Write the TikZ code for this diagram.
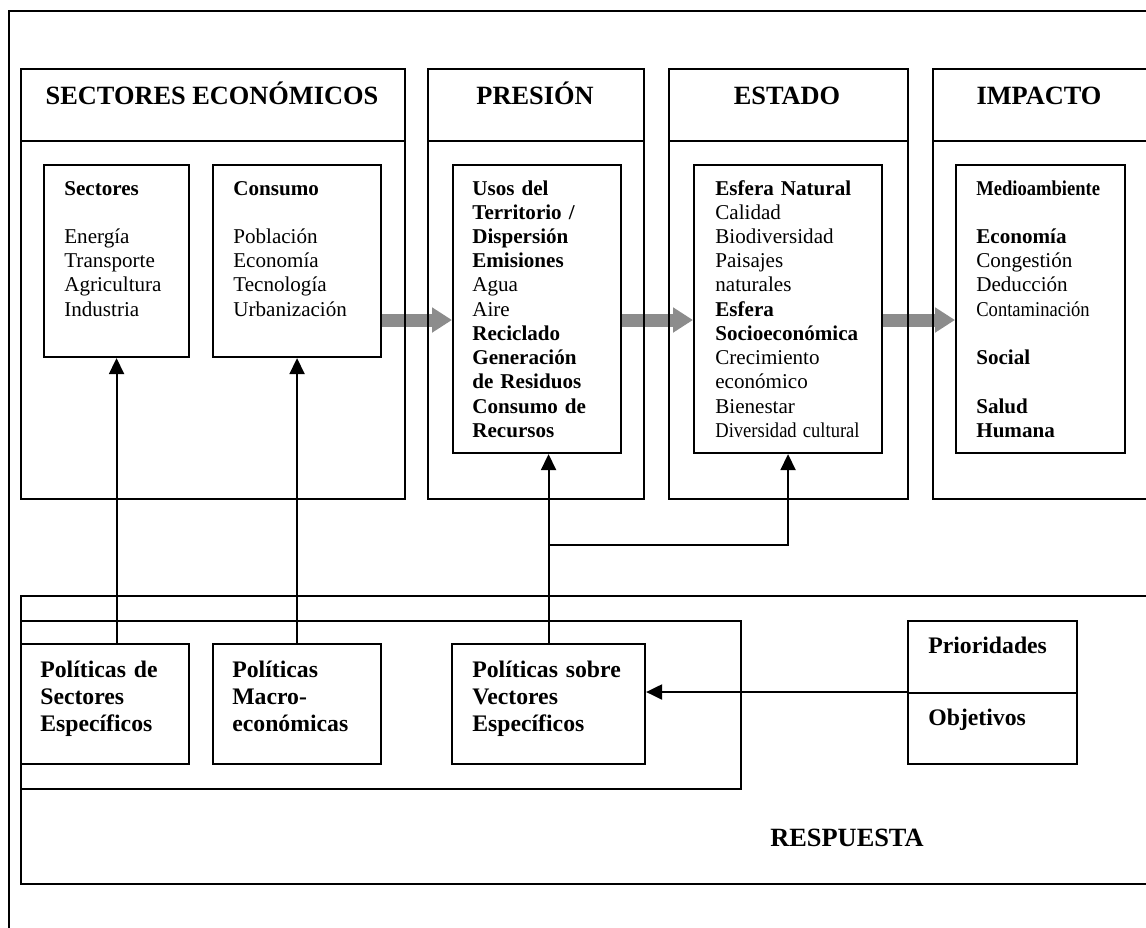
\documentclass[tikz,border=0pt]{standalone}
\usepackage{fontspec}
\setmainfont{Liberation Serif}
\usetikzlibrary{arrows.meta,backgrounds}

\definecolor{arrgray}{RGB}{140,140,140}

\newcommand{\narrow}[1]{\scalebox{0.88}[1]{#1}}

\tikzset{
  bx/.style 2 args={draw=black, line width=1.2pt, anchor=north west, inner sep=0pt,
    minimum width=#1*0.02cm, minimum height=#2*0.02cm},
  ttl/.style={anchor=base, inner sep=0pt, font=\fontsize{15}{18}\selectfont\bfseries},
  txt/.style={anchor=base west, inner sep=0pt, text width=4cm, align=left,
    font=\fontsize{12}{13.8}\selectfont},
  ptxt/.style={txt, font=\fontsize{13.5}{15.6}\selectfont\bfseries},
  arr/.style={line width=1.2pt, -{Triangle[length=0.32cm,width=0.3cm]}},
  garr/.style={draw=arrgray, line width=0.26cm, -{Triangle[length=0.4cm,width=0.48cm]}}
}

\begin{document}
\begin{tikzpicture}[x=0.02cm, y=-0.02cm]
	\clip (0,0) rectangle (1146,927);
	\draw[line width=1.2pt] (9,940) -- (9,11) -- (1160,11);

	\node[bx={384}{72}]  (secH)  at (20,68)   {};
	\node[bx={384}{358}] (secB)  at (20,140)  {};
	\node[bx={216}{72}]  (presH) at (427,68)  {};
	\node[bx={216}{358}] (presB) at (427,140) {};
	\node[bx={239}{72}]  (estH)  at (668,68)  {};
	\node[bx={239}{358}] (estB)  at (668,140) {};
	\node[bx={240}{72}]  (impH)  at (932,68)  {};
	\node[bx={240}{358}] (impB)  at (932,140) {};

	\node[ttl] (secT)  at (212,104)  {SECTORES ECONÓMICOS};
	\node[ttl] (presT) at (535,104)  {PRESIÓN};
	\node[ttl] (estT)  at (787,104)  {ESTADO};
	\node[ttl] (impT)  at (1039,104) {IMPACTO};

	\node[bx={145}{192}] (sect) at (43,164)  {};
	\node[bx={168}{192}] (cons) at (212,164) {};
	\node[bx={168}{288}] (pres) at (452,164) {};
	\node[bx={188}{288}] (est)  at (693,164) {};
	\node[bx={169}{288}] (imp)  at (955,164) {};

	\node[txt] (sectT) at (64,195)  {\textbf{Sectores}\\[\baselineskip]
		Energía\\ Transporte\\ Agricultura\\ Industria};
	\node[txt] (consT) at (233,195) {\textbf{Consumo}\\[\baselineskip]
		Población\\ Economía\\ Tecnología\\ Urbanización};
	\node[txt] (presT2) at (472,195) {\textbf{Usos del}\\ \textbf{Territorio /}\\
		\textbf{Dispersión}\\ \textbf{Emisiones}\\ Agua\\ Aire\\ \textbf{Reciclado}\\
		\textbf{Generación}\\ \textbf{de Residuos}\\ \textbf{Consumo de}\\ \textbf{Recursos}};
	\node[txt] (estT2) at (715,195) {\textbf{Esfera Natural}\\ Calidad\\ Biodiversidad\\
		Paisajes\\ naturales\\ \textbf{Esfera}\\ \textbf{Socioeconómica}\\ Crecimiento\\
		económico\\ Bienestar\\ \narrow{Diversidad cultural}};
	\node[txt] (impT2) at (976,195) {\narrow{\textbf{Medioambiente}}\\[\baselineskip]
		\textbf{Economía}\\ Congestión\\ Deducción\\ \narrow{Contaminación}\\[\baselineskip]
		\textbf{Social}\\[\baselineskip] \textbf{Salud}\\ \textbf{Humana}};

	\node[bx={1140}{288}] (resp)  at (20,595) {};
	\node[bx={720}{168}]  (polit) at (20,620) {};
	\node[bx={168}{120}]  (polS)  at (20,643)  {};
	\node[bx={168}{120}]  (polM)  at (212,643) {};
	\node[bx={193}{120}]  (polV)  at (451,643) {};
	\node[bx={169}{72}]   (prio)  at (907,620) {};
	\node[bx={169}{71}]   (obj)   at (907,692) {};

	\node[ptxt] (polST) at (40,677)  {Políticas de\\ Sectores\\ Específicos};
	\node[ptxt] (polMT) at (232,677) {Políticas\\ Macro-\\ económicas};
	\node[ptxt] (polVT) at (472,677) {Políticas sobre\\ Vectores\\ Específicos};
	\node[ptxt] (prioT) at (928,653) {Prioridades};
	\node[ptxt] (objT)  at (928,725) {Objetivos};
	\node[ttl, anchor=base west] (respT) at (770,846) {RESPUESTA};

	\begin{pgfonlayer}{background}
	\draw[garr] (cons.east |- 0,320) -- (pres.west |- 0,320);
	\draw[garr] (pres.east |- 0,320) -- (est.west |- 0,320);
	\draw[garr] (est.east |- 0,320)  -- (imp.west |- 0,320);
	\end{pgfonlayer}

	\draw[arr] (polS.north -| sect.south) -- (sect.south);
	\draw[arr] (polM.north) -- (cons.south);
	\draw[arr] (polV.north) -- (polV.north |- pres.south);
	\coordinate (jn) at (polV.north |- 0,545);
	\draw[arr] (jn) -| (est.south);
	\draw[arr] (obj.north west) -- (obj.north west -| polV.east);
\end{tikzpicture}
\end{document}
